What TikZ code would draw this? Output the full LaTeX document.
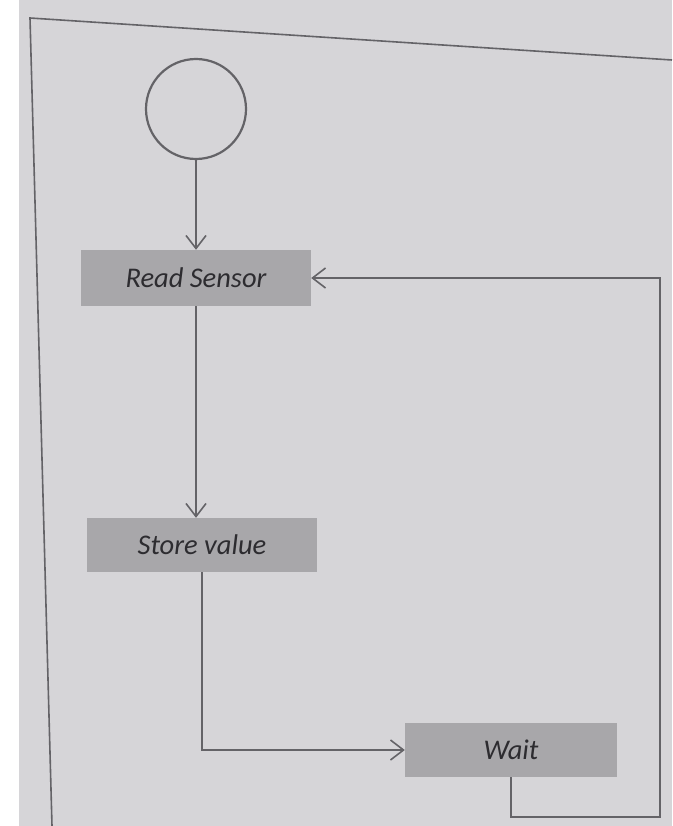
\documentclass[tikz,border=0pt]{standalone}
\usepackage{fontspec}
\setmainfont{Carlito}
\usetikzlibrary{arrows.meta}
\definecolor{paper}{RGB}{214,213,216}
\definecolor{boxfill}{RGB}{168,167,170}
\definecolor{ink}{RGB}{100,99,103}
\definecolor{txt}{RGB}{45,44,48}
\tikzset{
  stepbox/.style={fill=boxfill, draw=none, minimum height=56pt, inner sep=0pt,
    font=\fontsize{28.5}{31}\selectfont\itshape, text=txt},
  conn/.style={draw=ink, line width=1.8pt},
  tip/.style={-{Straight Barb[length=13pt,width=20pt,line width=1.6pt]}},
}
\begin{document}
\begin{tikzpicture}[x=1pt,y=-1pt]
  \useasboundingbox (0,0) rectangle (672,826);
  % page
  \fill[white] (0,0) rectangle (672,826);
  \fill[paper] (19,0) rectangle (672,826);
  % outer frame of the figure
  \draw[conn, line width=1.6pt] (672,60) -- (30,18) -- (52,826);

  % start state
  \node[circle, draw=ink, line width=2.2pt, minimum size=100pt, inner sep=0pt] (start) at (196,109) {};

  % activities
  \node[stepbox, minimum width=230pt] (rs) at (196,278) {Read Sensor};
  \node[stepbox, minimum width=230pt, minimum height=54pt] (sv) at (202,545) {Store value};
  \node[stepbox, minimum width=212pt, minimum height=54pt] (wt) at (511,750) {Wait};
  \coordinate (loop) at (660,817);

  % flow
  \draw[conn, tip] (start.south) -- (rs.north);
  \draw[conn, tip] (rs.south) -- (rs.south |- sv.north);
  \draw[conn, tip] (sv.south) |- (wt.west);
  \draw[conn, tip] (wt.south) |- (loop) |- (rs.east);
\end{tikzpicture}
\end{document}
